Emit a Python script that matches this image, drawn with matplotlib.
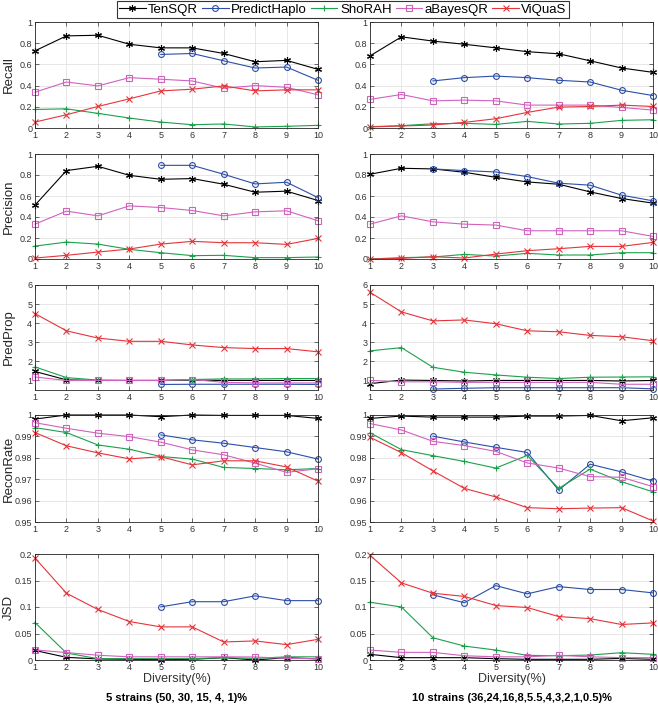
import numpy as np
import matplotlib
matplotlib.use("Agg")
import matplotlib.pyplot as plt
from matplotlib.ticker import FuncFormatter

plt.rcParams['font.family'] = ['Liberation Sans', 'DejaVu Sans']

nan = np.nan
diversity = list(range(1, 11))
methods = ["TenSQR", "PredictHaplo", "ShoRAH", "aBayesQR", "ViQuaS"]

# ---- 5 strains ----
recall_5 = {
    "TenSQR":       [0.728, 0.869, 0.875, 0.79, 0.756, 0.756, 0.703, 0.625, 0.638, 0.553],
    "PredictHaplo": [nan, nan, nan, nan, 0.694, 0.703, 0.634, 0.566, 0.575, 0.45],
    "ShoRAH":       [0.175, 0.181, 0.138, 0.094, 0.056, 0.031, 0.038, 0.01, 0.016, 0.025],
    "aBayesQR":     [0.338, 0.434, 0.397, 0.475, 0.46, 0.444, 0.375, 0.40, 0.384, 0.313],
    "ViQuaS":       [0.056, 0.125, 0.203, 0.275, 0.35, 0.366, 0.397, 0.35, 0.36, 0.36],
}
precision_5 = {
    "TenSQR":       [0.513, 0.842, 0.883, 0.797, 0.759, 0.766, 0.712, 0.636, 0.646, 0.557],
    "PredictHaplo": [nan, nan, nan, nan, 0.892, 0.892, 0.807, 0.715, 0.731, 0.585],
    "ShoRAH":       [0.123, 0.161, 0.142, 0.092, 0.06, 0.032, 0.035, 0.013, 0.013, 0.019],
    "aBayesQR":     [0.332, 0.456, 0.411, 0.506, 0.49, 0.462, 0.411, 0.449, 0.459, 0.364],
    "ViQuaS":       [0.009, 0.035, 0.066, 0.095, 0.142, 0.168, 0.155, 0.155, 0.139, 0.196],
}
predprop_5 = {
    "TenSQR":       [1.47, 1.03, 1.0, 1.0, 1.0, 1.02, 1.0, 1.0, 1.0, 1.0],
    "PredictHaplo": [nan, nan, nan, nan, 0.79, 0.8, 0.8, 0.8, 0.8, 0.79],
    "ShoRAH":       [1.71, 1.15, 1.02, 1.0, 1.0, 1.05, 1.08, 1.08, 1.1, 1.1],
    "aBayesQR":     [1.18, 1.0, 1.0, 1.0, 1.0, 1.05, 0.9, 0.87, 0.87, 0.87],
    "ViQuaS":       [4.5, 3.6, 3.22, 3.05, 3.05, 2.86, 2.72, 2.67, 2.67, 2.5],
}
recon_5 = {
    "TenSQR":       [0.9981, 1.0, 1.0, 1.0, 0.9992, 1.0, 0.9998, 0.9998, 0.9998, 0.9984],
    "PredictHaplo": [nan, nan, nan, nan, 0.9907, 0.9884, 0.9868, 0.9848, 0.9828, 0.9794],
    "ShoRAH":       [0.9941, 0.9918, 0.986, 0.984, 0.9806, 0.9794, 0.9755, 0.975, 0.9744, 0.975],
    "aBayesQR":     [0.9964, 0.9938, 0.9915, 0.9899, 0.9873, 0.9837, 0.9814, 0.9775, 0.9732, 0.9749],
    "ViQuaS":       [0.9918, 0.9856, 0.9823, 0.9795, 0.9805, 0.9767, 0.9786, 0.9786, 0.9757, 0.9691],
}
jsd_5 = {
    "TenSQR":       [0.018, 0.005, 0.002, 0.0013, 0.0006, 0.0013, 0.0044, 0.0, 0.0044, 0.002],
    "PredictHaplo": [nan, nan, nan, nan, 0.1003, 0.110, 0.110, 0.121, 0.112, 0.112],
    "ShoRAH":       [0.0707, 0.0132, 0.0025, 0.0025, 0.0025, 0.0025, 0.0044, 0.003, 0.006, 0.006],
    "aBayesQR":     [0.019, 0.014, 0.009, 0.006, 0.006, 0.006, 0.006, 0.0057, 0.003, 0.0025],
    "ViQuaS":       [0.1924, 0.126, 0.0953, 0.0726, 0.0625, 0.0625, 0.034, 0.036, 0.029, 0.039],
}

# ---- 10 strains ----
recall_10 = {
    "TenSQR":       [0.68, 0.86, 0.82, 0.79, 0.756, 0.72, 0.70, 0.634, 0.566, 0.525],
    "PredictHaplo": [nan, nan, 0.444, 0.475, 0.49, 0.475, 0.45, 0.434, 0.356, 0.306],
    "ShoRAH":       [0.0125, 0.022, 0.04, 0.044, 0.034, 0.0625, 0.0375, 0.044, 0.072, 0.078],
    "aBayesQR":     [0.27, 0.316, 0.256, 0.263, 0.256, 0.216, 0.216, 0.216, 0.194, 0.169],
    "ViQuaS":       [0.01, 0.019, 0.028, 0.053, 0.0875, 0.147, 0.197, 0.203, 0.216, 0.203],
}
precision_10 = {
    "TenSQR":       [0.807, 0.864, 0.858, 0.826, 0.778, 0.734, 0.712, 0.639, 0.576, 0.532],
    "PredictHaplo": [nan, nan, 0.858, 0.842, 0.829, 0.785, 0.722, 0.703, 0.608, 0.554],
    "ShoRAH":       [0.0, 0.013, 0.019, 0.044, 0.028, 0.054, 0.038, 0.038, 0.06, 0.06],
    "aBayesQR":     [0.332, 0.411, 0.354, 0.332, 0.323, 0.269, 0.269, 0.269, 0.269, 0.215],
    "ViQuaS":       [0.0, 0.006, 0.022, 0.009, 0.047, 0.079, 0.098, 0.12, 0.12, 0.158],
}
predprop_10 = {
    "TenSQR":       [0.83, 1.02, 1.0, 0.97, 1.0, 1.0, 1.0, 1.0, 0.97, 1.0],
    "PredictHaplo": [nan, nan, 0.55, 0.59, 0.62, 0.62, 0.62, 0.62, 0.62, 0.56],
    "ShoRAH":       [2.55, 2.72, 1.69, 1.43, 1.29, 1.17, 1.1, 1.17, 1.18, 1.19],
    "aBayesQR":     [1.0, 0.93, 0.93, 0.9, 0.9, 0.9, 0.9, 0.9, 0.8, 0.8],
    "ViQuaS":       [5.62, 4.59, 4.12, 4.17, 3.97, 3.6, 3.55, 3.36, 3.29, 3.08],
}
recon_10 = {
    "TenSQR":       [0.9984, 0.9995, 0.999, 0.999, 0.999, 0.9995, 0.9995, 0.9998, 0.9973, 0.9987],
    "PredictHaplo": [nan, nan, 0.9901, 0.9874, 0.9849, 0.9825, 0.9649, 0.977, 0.9734, 0.9691],
    "ShoRAH":       [0.9917, 0.9838, 0.981, 0.9783, 0.9752, 0.9811, 0.9657, 0.9747, 0.9688, 0.9641],
    "aBayesQR":     [0.996, 0.993, 0.9877, 0.9857, 0.983, 0.9776, 0.9752, 0.9712, 0.9709, 0.9665],
    "ViQuaS":       [0.9896, 0.9824, 0.9739, 0.9657, 0.9617, 0.9567, 0.9562, 0.9565, 0.9567, 0.9505],
}
jsd_10 = {
    "TenSQR":       [0.0107, 0.0044, 0.0044, 0.0044, 0.0025, 0.0013, 0.0013, 0.0013, 0.003, 0.0013],
    "PredictHaplo": [nan, nan, 0.123, 0.108, 0.1404, 0.1248, 0.1385, 0.133, 0.133, 0.1266],
    "ShoRAH":       [0.109, 0.100, 0.042, 0.0263, 0.0188, 0.0088, 0.008, 0.0094, 0.0138, 0.0107],
    "aBayesQR":     [0.0188, 0.0144, 0.0144, 0.008, 0.006, 0.006, 0.0088, 0.006, 0.0044, 0.0044],
    "ViQuaS":       [0.1975, 0.1455, 0.126, 0.120, 0.1028, 0.099, 0.082, 0.078, 0.067, 0.070],
}

row_names = ["Recall", "Precision", "PredProp", "ReconRate", "JSD"]
left_data = [recall_5, precision_5, predprop_5, recon_5, jsd_5]
right_data = [recall_10, precision_10, predprop_10, recon_10, jsd_10]
col_titles = ["5 strains (50, 30, 15, 4, 1)%", "10 strains (36,24,16,8,5.5,4,3,2,1,0.5)%"]

styles = {
    "TenSQR":       dict(color="#000000", marker=(6, 2, 0), ms=5),
    "PredictHaplo": dict(color="#2c4ea8", marker="o", ms=4.2),
    "ShoRAH":       dict(color="#1ca04c", marker="+", ms=5),
    "aBayesQR":     dict(color="#d062bd", marker="s", ms=3.8),
    "ViQuaS":       dict(color="#e5343a", marker="x", ms=4.2),
}

ylims = [(0, 1), (0, 1), (0.5, 6), (0.95, 1.0), (0, 0.2)]
yticks = [np.arange(0, 1.01, 0.2), np.arange(0, 1.01, 0.2), np.arange(1, 6.1, 1),
          np.arange(0.95, 1.001, 0.01), np.arange(0, 0.201, 0.05)]

W, H = 658, 705
fig = plt.figure(figsize=(W / 100, H / 100), dpi=100)

# axes positions in pixels (top, bottom) / (left, right)
rows_px = [(22, 128), (154, 259), (285, 390), (415, 522), (554, 660)]
cols_px = [(35, 318), (370, 653)]

fmt = FuncFormatter(lambda v, p: ("%g" % round(v, 4)))

handles = None
for c, (x0, x1) in enumerate(cols_px):
    data_col = left_data if c == 0 else right_data
    for r, (t, b) in enumerate(rows_px):
        ax = fig.add_axes([x0 / W, (H - b) / H, (x1 - x0) / W, (b - t) / H])
        lines = []
        for m in methods:
            st = styles[m]
            ln, = ax.plot(diversity, data_col[r][m], color=st["color"], marker=st["marker"],
                          mfc="none", mec=st["color"], lw=0.8, ms=st["ms"], mew=0.8,
                          label=m, clip_on=False)
            lines.append(ln)
        handles = lines
        ax.set_xlim(1, 10)
        ax.set_ylim(*ylims[r])
        ax.set_xticks(diversity)
        ax.set_yticks(yticks[r])
        ax.yaxis.set_major_formatter(fmt)
        ax.grid(True, color="#e3e3e3", lw=0.6)
        ax.set_axisbelow(True)
        ax.tick_params(direction="in", length=3, width=0.5, labelsize=6.5,
                       colors="#333333", pad=2, top=True, right=True)
        for s in ax.spines.values():
            s.set_color("#262626")
            s.set_linewidth(0.6)
        if c == 0:
            ax.set_ylabel(row_names[r], fontsize=9.5, color="#262626")
            ax.yaxis.set_label_coords((15 - x0) / (x1 - x0), 0.5)
        if r == len(rows_px) - 1:
            ax.set_xlabel("Diversity(%)", fontsize=9, color="#333333", labelpad=1)
    fig.text((x0 + x1) / 2 / W, 1 - 698 / H, col_titles[c], ha="center", va="center",
             fontsize=8, fontweight="bold")

leg = fig.legend(handles, methods, loc="upper center", bbox_to_anchor=(343 / W, 1.0),
                 ncol=5, fontsize=9.5, frameon=True, fancybox=False, edgecolor="#000000",
                 handlelength=2.0, columnspacing=0.3, handletextpad=0.2,
                 borderpad=0.15, borderaxespad=0.1)
leg.get_frame().set_linewidth(0.8)

fig.savefig("out.png", dpi=100)
